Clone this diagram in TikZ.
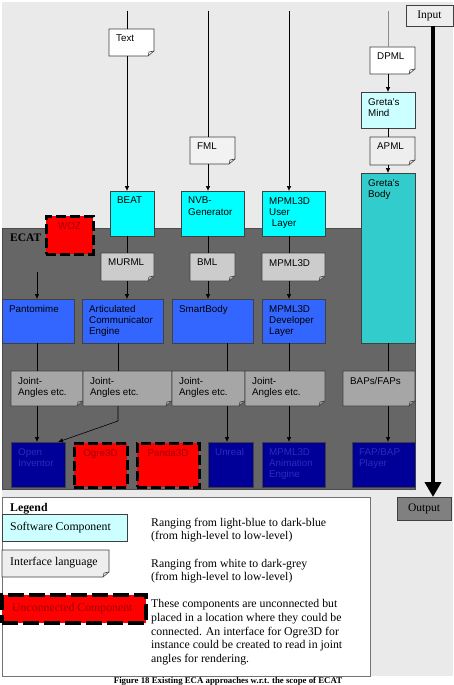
\documentclass[tikz,border=0pt]{standalone}
\usepackage{fontspec}
\setmainfont{Liberation Serif}
\newfontfamily\arialf{Liberation Sans}
\usetikzlibrary{arrows.meta}
\definecolor{bgc}{HTML}{EAEAEA}
\definecolor{ecatc}{HTML}{666666}
\definecolor{cyanc}{HTML}{00FFFF}
\definecolor{lcyan}{HTML}{CCFFFF}
\definecolor{tealc}{HTML}{33CCCC}
\definecolor{bluec}{HTML}{3366FF}
\definecolor{dbluec}{HTML}{000099}
\definecolor{dbtext}{HTML}{2B2BBF}
\definecolor{redc}{HTML}{FF0000}
\definecolor{rtext}{HTML}{A00000}
\definecolor{ifa}{HTML}{FFFFFF}
\definecolor{ifb}{HTML}{F2F2F2}
\definecolor{ifc}{HTML}{CCCCCC}
\definecolor{ifd}{HTML}{A6A6A6}
\definecolor{outc}{HTML}{808080}
\definecolor{inc}{HTML}{EEEEEE}
\newcommand\ifacebox[7]{%
  \filldraw[docline, fill=#6] (#2,#3) -- ({#2+#4},#3) -- ({#2+#4},{#3+#5-5}) -- ({#2+#4-6},{#3+#5}) -- (#2,{#3+#5}) -- cycle;
  \draw[docline] ({#2+#4-6},{#3+#5}) -- ({#2+#4-5},{#3+#5-4}) -- ({#2+#4},{#3+#5-5});
  \node[box, minimum width=#4pt, minimum height=#5pt, tl={#7}] (#1) at (#2,#3) {};}
\begin{document}
\begin{tikzpicture}[x=1pt,y=-1pt,
  sans/.style={font=\arialf\fontsize{9.8}{11.3}\selectfont},
  box/.style={rectangle, inner sep=0pt, outer sep=0pt, anchor=north west},
  comp/.style={box, draw=black!75, line width=0.6pt},
  unc/.style={box, fill=redc, draw=black, line width=3pt, dash pattern=on 10pt off 4pt},
  docline/.style={draw=black!75, line width=0.6pt},
  lbl/.style={anchor=north west, inner sep=0pt, align=left, sans, xshift=7pt, yshift=-6pt},
  tl/.style={label={[lbl]north west:#1}},
  tld/.style={label={[lbl,text=dbtext]north west:#1}},
  tlr/.style={label={[anchor=north, inner sep=0pt, sans, text=rtext, yshift=-6pt]north:#1}},
  ln/.style={draw=black, line width=0.6pt},
  arr/.style={ln, -{Latex[length=5pt,width=4.5pt]}},
  bigarr/.style={draw=black, line width=4pt, -{Triangle[length=15pt,width=16pt]}},
  serif/.style={font=\fontsize{11.8}{13.7}\selectfont}
]
\useasboundingbox (0,0) rectangle (453,685);
\fill[white] (0,0) rectangle (453,685);
\fill[bgc] (2,2) rectangle (453,676);
% ECAT region
\filldraw[fill=ecatc, draw=black!70, line width=0.6pt] (2,228) rectangle (415,489);
\node[anchor=north west, inner sep=0pt, font=\bfseries\fontsize{11.5}{13}\selectfont] (ecat) at (10,234) {ECAT};

% interface languages
\ifacebox{text}{109}{29}{45}{27}{ifa}{Text}
\ifacebox{fml}{190}{137}{45}{27}{ifb}{FML}
\ifacebox{dpml}{370}{47}{45}{27}{ifa}{DPML}
\ifacebox{apml}{370}{137}{45}{28}{inc}{APML}
\ifacebox{murml}{101}{253}{53}{28}{ifc}{MURML}
\ifacebox{bml}{190}{253}{45}{28}{ifc}{BML}
\ifacebox{mpif}{262}{253}{63}{28}{ifc}{MPML3D}
\ifacebox{ja1}{11}{371}{72}{35}{ifd}{Joint-\\Angles etc.}
\ifacebox{ja2}{83}{371}{89}{35}{ifd}{Joint-\\Angles etc.}
\ifacebox{ja3}{172}{371}{73}{35}{ifd}{Joint-\\Angles etc.}
\ifacebox{ja4}{245}{371}{80}{35}{ifd}{Joint-\\Angles etc.}
\ifacebox{baps}{343}{371}{72}{35}{ifd}{BAPs/FAPs}

% software components
\node[comp, fill=cyanc, minimum width=44pt, minimum height=45pt, tl={BEAT}] (beat) at (110,191) {};
\node[comp, fill=cyanc, minimum width=63pt, minimum height=45pt, tl={NVB-\\Generator}] (nvb) at (181,191) {};
\node[comp, fill=cyanc, minimum width=63pt, minimum height=45pt, tl={MPML3D\\User\\\ Layer}] (mpuser) at (262,191) {};
\node[comp, fill=lcyan, minimum width=54pt, minimum height=36pt, tl={Greta’s\\Mind}] (gmind) at (361,92) {};
\node[comp, fill=tealc, minimum width=54pt, minimum height=170pt, tl={Greta’s\\Body}] (gbody) at (361,173) {};
\node[unc, minimum width=47pt, minimum height=38pt, tlr={WOZ}] (woz) at (46,216) {};
\node[comp, fill=bluec, minimum width=72pt, minimum height=44pt, tl={Pantomime}] (panto) at (2,299) {};
\node[comp, fill=bluec, minimum width=81pt, minimum height=44pt, tl={Articulated\\Communicator\\Engine}] (ace) at (82,299) {};
\node[comp, fill=bluec, minimum width=81pt, minimum height=44pt, tl={SmartBody}] (smart) at (172,299) {};
\node[comp, fill=bluec, minimum width=63pt, minimum height=44pt, tl={MPML3D\\Developer\\Layer}] (mpdev) at (262,299) {};
\node[comp, fill=dbluec, minimum width=54pt, minimum height=45pt, tld={Open\\Inventor}] (oi) at (11,442) {};
\node[unc, minimum width=53pt, minimum height=44pt, tlr={Ogre3D}] (ogre) at (74,443) {};
\node[unc, minimum width=62pt, minimum height=44pt, tlr={Panda3D}] (panda) at (137,443) {};
\node[comp, fill=dbluec, minimum width=45pt, minimum height=45pt, tld={Unreal}] (unreal) at (208,442) {};
\node[comp, fill=dbluec, minimum width=63pt, minimum height=45pt, tld={MPML3D\\Animation\\Engine}] (mpanim) at (262,442) {};
\node[comp, fill=dbluec, minimum width=63pt, minimum height=45pt, tld={FAP/BAP\\Player}] (fap) at (352,442) {};

% input / output
\node[box, fill=inc, draw=black!75, line width=0.6pt, minimum width=47pt, minimum height=21pt, font=\fontsize{11.5}{13}\selectfont] (inp) at (406,5) {Input};
\node[box, fill=outc, draw=black!75, line width=0.6pt, minimum width=54pt, minimum height=23pt, font=\fontsize{11.5}{13}\selectfont] (out) at (397,497) {Output};

% connectors
\coordinate (top1) at (127,11);
\coordinate (top2) at (208,11);
\coordinate (top3) at (289,11);
\coordinate (top4) at (388,11);
\coordinate (pin) at (37,272);
\coordinate (bend) at (118,421);
\coordinate (x5) at (227,343);
\coordinate (x6) at (433,26);

\draw[ln] (top1) -- (top1 |- text.north);
\draw[arr] (top1 |- text.south) -- (top1 |- beat.north);
\draw[ln] (top1 |- beat.south) -- (top1 |- murml.north);
\draw[arr] (top1 |- murml.south) -- (top1 |- ace.north);

\draw[ln] (top2) -- (top2 |- fml.north);
\draw[arr] (top2 |- fml.south) -- (top2 |- nvb.north);
\draw[ln] (top2 |- nvb.south) -- (top2 |- bml.north);
\draw[arr] (top2 |- bml.south) -- (top2 |- smart.north);

\draw[arr] (top3) -- (top3 |- mpuser.north);
\draw[ln] (top3 |- mpuser.south) -- (top3 |- mpif.north);
\draw[arr] (top3 |- mpif.south) -- (top3 |- mpdev.north);
\draw[ln] (top3 |- mpdev.south) -- (top3 |- ja4.north);
\draw[arr] (top3 |- ja4.south) -- (top3 |- mpanim.north);

\draw[ln, draw=black!45] (top4) -- (top4 |- dpml.north);
\draw[arr] (top4 |- dpml.south) -- (top4 |- gmind.north);
\draw[ln] (top4 |- gmind.south) -- (top4 |- apml.north);
\draw[arr] (top4 |- apml.south) -- (top4 |- gbody.north);
\draw[ln] (top4 |- gbody.south) -- (top4 |- baps.north);
\draw[arr] (top4 |- baps.south) -- (top4 |- fap.north);

\draw[arr] (pin) -- (pin |- panto.north);
\draw[ln] (pin |- panto.south) -- (pin |- ja1.north);
\draw[arr] (pin |- ja1.south) -- (pin |- oi.north);

\draw[ln] (bend |- ace.south) -- (bend |- ja2.north);
\draw[arr] (bend |- ja2.south) -- (bend) -- ([xshift=-7pt]oi.north east);

\draw[ln] (x5) -- (x5 |- ja3.north);
\draw[arr] (x5 |- ja3.south) -- (x5 |- unreal.north);

\draw[bigarr] (x6) -- (x6 |- out.north);

% legend
\filldraw[fill=white, draw=black!55, line width=0.8pt] (2,497) rectangle (370,676);
\node[anchor=base west, inner sep=0pt, font=\bfseries\fontsize{11.8}{13.7}\selectfont] (leg) at (10,511.5) {Legend};
\node[box, fill=lcyan, draw=black!75, line width=0.6pt, minimum width=125pt, minimum height=27pt,
  label={[anchor=west, inner sep=0pt, serif, xshift=8pt]west:Software Component}] (lsw) at (2,514) {};
\ifacebox{lif}{2}{550}{107}{27}{inc}{}
\node[anchor=west, inner sep=0pt, serif] (liftext) at (10,563) {Interface language};
\node[box, fill=redc, draw=black, line width=4.3pt, dash pattern=on 16pt off 5pt, minimum width=144pt, minimum height=28pt,
  label={[anchor=west, inner sep=0pt, serif, text=rtext, xshift=10pt]west:Unconnected Component}] (lun) at (2,595) {};
\node[anchor=north west, inner sep=0pt, align=left, serif] (d1) at (151,517.5) {Ranging from light-blue to dark-blue\\(from high-level to low-level)};
\node[anchor=north west, inner sep=0pt, align=left, serif] (d2) at (151,558.5) {Ranging from white to dark-grey\\(from high-level to low-level)};
\node[anchor=north west, inner sep=0pt, align=left, serif] (d3) at (151,599.5) {These components are unconnected but\\placed in a location where they could be\\connected. An interface for Ogre3D for\\instance could be created to read in joint\\angles for rendering.};

% caption
\node[anchor=base, inner sep=0pt, font=\bfseries\fontsize{8.8}{10}\selectfont] (cap) at (228,683) {Figure 18 Existing ECA approaches w.r.t. the scope of ECAT};
\end{tikzpicture}
\end{document}
